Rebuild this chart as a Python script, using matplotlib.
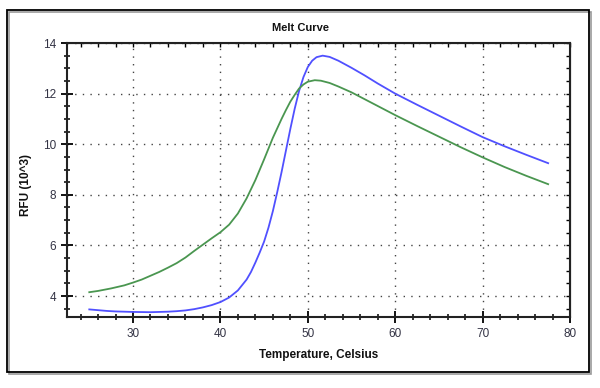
import matplotlib
matplotlib.use("Agg")
import matplotlib.pyplot as plt
from matplotlib.patches import Rectangle
from matplotlib.ticker import MultipleLocator

plt.rcParams["font.family"] = ["Liberation Sans", "DejaVu Sans"]

# melt curve readings (temperature in C, RFU in 10^3)
temp_blue = [25, 26, 27, 28, 30, 32, 34, 35, 36, 37, 38, 39, 40, 41, 42, 43,
             43.5, 44, 44.5, 45, 45.5, 46, 46.5, 47, 47.5, 48, 48.5, 49, 49.5,
             50, 50.5, 51, 51.7, 52.5, 53.5, 55, 56.5, 58, 60, 62.5, 65, 67.5,
             70, 72.5, 75, 77.5]
rfu_blue = [3.47, 3.44, 3.41, 3.39, 3.37, 3.36, 3.38, 3.40, 3.43, 3.48, 3.55,
            3.64, 3.76, 3.94, 4.22, 4.65, 4.95, 5.32, 5.72, 6.15, 6.70, 7.35,
            8.10, 8.90, 9.75, 10.6, 11.4, 12.1, 12.65, 13.05, 13.3, 13.44,
            13.5, 13.45, 13.3, 13.02, 12.72, 12.40, 12.0, 11.56, 11.13,
            10.7, 10.28, 9.92, 9.58, 9.25]

temp_green = [25, 26, 27.5, 29, 30, 31, 32, 33, 34, 35, 36, 37, 38, 39, 40,
              41, 42, 43, 44, 45, 46, 47, 47.5, 48, 48.5, 49, 49.5, 50, 50.8,
              51.5, 52.5, 53.5, 55, 57.5, 60, 62.5, 65, 67.5, 70, 72.5, 75,
              77.5]
rfu_green = [4.15, 4.20, 4.30, 4.42, 4.53, 4.65, 4.80, 4.95, 5.12, 5.30, 5.52,
             5.78, 6.03, 6.28, 6.52, 6.82, 7.26, 7.86, 8.58, 9.40, 10.25,
             11.0, 11.35, 11.68, 11.95, 12.2, 12.36, 12.47, 12.53, 12.51,
             12.42, 12.28, 12.05, 11.6, 11.15, 10.72, 10.3, 9.88, 9.48, 9.1,
             8.75, 8.42]

x_ticks = [30, 40, 50, 60, 70, 80]
y_ticks = [4, 6, 8, 10, 12, 14]

fig = plt.figure(figsize=(6, 3.88), dpi=100)
ax = fig.add_axes([67 / 600, 1 - 317 / 388, 503 / 600, 274 / 388])

ax.plot(temp_blue, rfu_blue, color="#5050ff", lw=1.3)
ax.plot(temp_green, rfu_green, color="#4a9650", lw=1.3)

ax.set_xlim(22.45, 80)
ax.set_ylim(3.17, 14)
ax.set_xticks(x_ticks)
ax.set_yticks(y_ticks)
ax.xaxis.set_minor_locator(MultipleLocator(2))
ax.yaxis.set_minor_locator(MultipleLocator(0.5))

ax.grid(True, which="major", color="#444444", linestyle=(0, (1, 4.5)), lw=1.0)

for s in ax.spines.values():
    s.set_linewidth(1.5)
    s.set_color("#222222")

ax.tick_params(which="major", direction="inout", length=8, width=1.3,
               labelsize=8.5, labelcolor="#333344", pad=4)
ax.tick_params(which="minor", direction="inout", length=5, width=1.1)

# small inward ticks on top and right
top = ax.secondary_xaxis("top")
top.set_xticks(x_ticks)
top.xaxis.set_minor_locator(MultipleLocator(2))
top.tick_params(which="both", direction="in", length=3, width=1, labeltop=False)
right = ax.secondary_yaxis("right")
right.set_yticks(y_ticks)
right.yaxis.set_minor_locator(MultipleLocator(0.5))
right.tick_params(which="both", direction="in", length=3, width=1,
                  labelright=False)

fig.text(0.5, 1 - 28 / 388, "Melt Curve", ha="center", va="center",
         fontsize=8, fontweight="bold", color="#111111")
fig.text(318.5 / 600, 1 - 355 / 388, "Temperature, Celsius", ha="center",
         va="center", fontsize=8.5, fontweight="bold", color="#111111")
fig.text(26 / 600, 1 - 185 / 388, "RFU (10^3)", ha="center", va="center",
         rotation=90, fontsize=8.5, fontweight="bold", color="#111111")

# outer frame with a slight shadow
fig.patches.append(Rectangle((9 / 600, 1 - 374 / 388), 582 / 600, 362 / 388,
                             transform=fig.transFigure, fill=False,
                             edgecolor="#999999", lw=1.2))
fig.patches.append(Rectangle((7 / 600, 1 - 372 / 388), 582 / 600, 362 / 388,
                             transform=fig.transFigure, fill=False,
                             edgecolor="black", lw=1.3))

fig.savefig("out.png", dpi=100)
